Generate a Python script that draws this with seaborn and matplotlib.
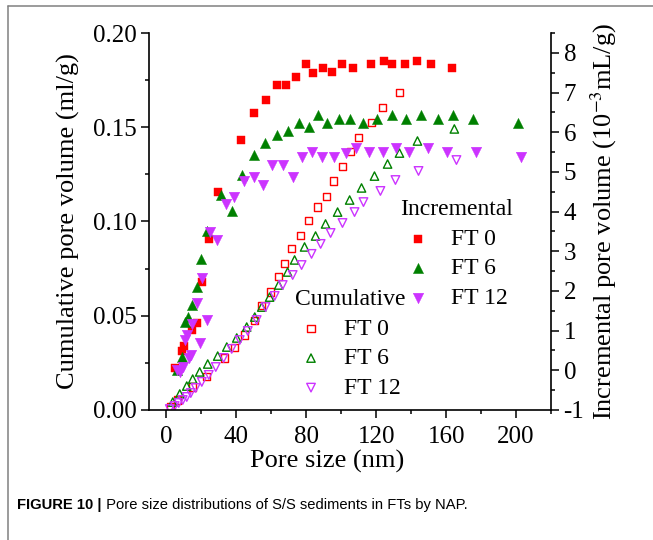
import seaborn as sns
import matplotlib.pyplot as plt
from matplotlib.ticker import MultipleLocator, FormatStrFormatter
from matplotlib.lines import Line2D

# incremental pore volume, right axis (10^-3 mL/g)
inc_ft0_x = [4.7, 8.7, 9.9, 14.5, 17.3, 20.2, 24.2, 29.3, 42.5, 49.9, 56.7, 63.0, 68.2, 73.9,
             79.6, 83.6, 89.3, 94.5, 100.7, 106.5, 117.3, 124.2, 129.3, 136.2, 143.6, 151.6, 163.6]
inc_ft0_y = [0.06, 0.49, 0.61, 1.02, 1.19, 2.22, 3.31, 4.49, 5.80, 6.48, 6.81, 7.19, 7.19, 7.39,
             7.72, 7.49, 7.61, 7.51, 7.72, 7.61, 7.72, 7.79, 7.72, 7.72, 7.79, 7.72, 7.61]

inc_ft6_x = [5.9, 8.7, 10.5, 12.2, 14.5, 17.3, 19.6, 23.0, 31.0, 37.3, 43.0, 49.9, 56.2, 63.0, 69.3,
             75.6, 81.3, 86.5, 91.6, 98.5, 104.8, 112.2, 120.2, 128.8, 136.8, 145.9, 155.6, 164.2,
             175.6, 201.3]
inc_ft6_y = [0.01, 0.34, 1.22, 1.34, 1.64, 2.10, 2.80, 3.51, 4.42, 4.01, 4.92, 5.42, 5.73, 5.93, 6.03,
             6.23, 6.13, 6.43, 6.23, 6.33, 6.33, 6.23, 6.33, 6.43, 6.33, 6.43, 6.33, 6.43,
             6.33, 6.23]

inc_ft12_x = [5.9, 7.6, 9.3, 10.5, 12.0, 12.8, 13.9, 14.5, 17.3, 19.0, 20.2, 23.0, 24.7, 28.7, 33.9,
              38.5, 44.2, 49.9, 55.0, 60.2, 66.5, 72.2, 77.3, 83.0, 88.7, 95.6, 102.5, 108.7,
              115.6, 123.6, 131.6, 138.5, 149.9, 160.7, 177.3, 203.0]
inc_ft12_y = [0.01, -0.04, 0.08, 0.76, 0.89, 0.31, 0.39, 1.17, 1.70, 0.69, 2.32, 1.27, 3.48, 3.28, 4.19,
              4.37, 4.77, 4.87, 4.67, 5.17, 5.17, 4.87, 5.37, 5.50, 5.37, 5.37, 5.47, 5.60,
              5.50, 5.50, 5.60, 5.50, 5.60, 5.50, 5.50, 5.37]

# cumulative pore volume, left axis (ml/g)
cum_ft0_x = [2.5, 6.5, 15.0, 23.0, 33.3, 39.0, 44.7, 50.5, 54.5, 59.6, 64.2, 67.6, 71.6, 76.7,
             81.3, 86.5, 91.6, 95.6, 100.7, 105.3, 109.9, 117.3, 123.6, 133.3]
cum_ft0_y = [0.0021, 0.0053, 0.0122, 0.0180, 0.0276, 0.0334, 0.0398, 0.0477, 0.0552, 0.0626, 0.0706,
             0.0775, 0.0859, 0.0928, 0.1003, 0.1077, 0.1135, 0.1215, 0.1294, 0.1369, 0.1448,
             0.1523, 0.1607, 0.1682]

cum_ft6_x = [3.6, 7.6, 11.6, 15.0, 19.0, 23.6, 29.3, 34.5, 40.2, 45.9, 50.5, 54.5, 59.0, 64.2,
             69.3, 73.3, 79.0, 85.3, 91.0, 97.9, 104.8, 111.6, 119.0, 126.5, 133.3, 143.6, 164.7]
cum_ft6_y = [0.0042, 0.0085, 0.0127, 0.0164, 0.0202, 0.0244, 0.0286, 0.0334, 0.0382, 0.0440, 0.0493,
             0.0546, 0.0599, 0.0663, 0.0732, 0.0796, 0.0865, 0.0923, 0.0987, 0.1050, 0.1114,
             0.1178, 0.1241, 0.1305, 0.1363, 0.1427, 0.1491]

cum_ft12_x = [1.9, 4.7, 7.0, 9.3, 11.6, 13.9, 16.7, 20.2, 24.2, 28.2, 32.7, 37.3, 41.9, 46.5, 51.6,
              56.7, 61.9, 66.5, 72.2, 77.3, 83.0, 88.2, 93.9, 100.7, 107.6, 112.7, 122.4, 131.0,
              144.2, 165.9]
cum_ft12_y = [0.0005, 0.0021, 0.0037, 0.0053, 0.0069, 0.0090, 0.0117, 0.0149, 0.0186, 0.0228, 0.0276,
              0.0324, 0.0371, 0.0419, 0.0477, 0.0546, 0.0605, 0.0663, 0.0716, 0.0769, 0.0828,
              0.0881, 0.0939, 0.0992, 0.1050, 0.1103, 0.1162, 0.1220, 0.1268, 0.1326]

labels = ["FT 0", "FT 6", "FT 12"]
colors = ["#ff0000", "#008000", "#cc33ff"]

sns.set_theme(style="ticks", rc={"axes.edgecolor": "black", "xtick.color": "black",
                                 "ytick.color": "black", "text.color": "black",
                                 "axes.labelcolor": "black"})
plt.rcParams["font.family"] = ["Liberation Serif", "DejaVu Serif"]
plt.rcParams["mathtext.fontset"] = "stix"
plt.rcParams["axes.unicode_minus"] = False

fig = plt.figure(figsize=(6.53, 5.40), dpi=100)
ax = fig.add_axes([149 / 653, 1 - 410 / 540, 402 / 653, 377 / 540])
ax2 = ax.twinx()

# cumulative (open markers)
cum_sets = [(cum_ft0_x, cum_ft0_y, "s", 26), (cum_ft6_x, cum_ft6_y, "^", 36),
            (cum_ft12_x, cum_ft12_y, "v", 38)]
for (x, y, m, s), c in zip(cum_sets, colors):
    sns.scatterplot(x=x, y=y, ax=ax, marker=m, s=s, color=c, facecolor="none",
                    edgecolor=c, linewidth=1.0, legend=False)

# incremental (filled markers)
inc_sets = [(inc_ft0_x, inc_ft0_y, "s", 32), (inc_ft6_x, inc_ft6_y, "^", 54),
            (inc_ft12_x, inc_ft12_y, "v", 58)]
for (x, y, m, s), c in zip(inc_sets, colors):
    sns.scatterplot(x=x, y=y, ax=ax2, marker=m, s=s, color=c, edgecolor=c,
                    linewidth=0.3, legend=False)

ax.set_xlim(-10, 220)
ax.set_ylim(0, 0.20)
ax2.set_ylim(-1, 8.5)

ax.xaxis.set_major_locator(MultipleLocator(40))
ax.xaxis.set_minor_locator(MultipleLocator(20))
ax.yaxis.set_major_locator(MultipleLocator(0.05))
ax.yaxis.set_minor_locator(MultipleLocator(0.025))
ax.yaxis.set_major_formatter(FormatStrFormatter("%.2f"))
ax2.yaxis.set_major_locator(MultipleLocator(1))
ax2.yaxis.set_minor_locator(MultipleLocator(0.5))

for a in (ax, ax2):
    a.tick_params(which="major", direction="out", length=5.5, width=1.1, labelsize=18)
    a.tick_params(which="minor", direction="out", length=3, width=1.1)
    for sp in a.spines.values():
        sp.set_linewidth(1.2)
ax.tick_params(axis="x", which="major", pad=6)
ax.spines["top"].set_visible(False)
ax.spines["right"].set_visible(False)
for k in ("top", "left", "bottom"):
    ax2.spines[k].set_visible(False)

ax.set_xlabel("Pore size (nm)", fontsize=19)
ax.xaxis.set_label_coords((327 - 149) / 402, -0.107)
ax.set_ylabel("Cumulative pore volume (ml/g)", fontsize=19)
ax.yaxis.set_label_coords((80 - 149) / 402, 0.5)
ax2.set_ylabel(r"Incremental pore volume (10$^{-3}$mL/g)", fontsize=19)
ax2.yaxis.set_label_coords((588 - 149) / 402, 0.5)

leg_kw = dict(loc="center", bbox_transform=fig.transFigure, frameon=False, fontsize=17,
              title_fontsize=17, handlelength=1.0, handletextpad=0.9, labelspacing=0.34,
              borderpad=0, borderaxespad=0)
leg1 = ax2.legend(handles=ax2.collections[:3], labels=labels, title="Incremental",
                  bbox_to_anchor=(457 / 653, 1 - 254 / 540), **leg_kw)
ax2.add_artist(leg1)
ax2.legend(handles=ax.collections[:3], labels=labels, title="Cumulative",
           bbox_to_anchor=(350 / 653, 1 - 344 / 540), **leg_kw)

# caption
cap_font = ["Liberation Sans", "DejaVu Sans"]
t1 = fig.text(17 / 653, 1 - 509 / 540, "FIGURE 10 |", family=cap_font, fontweight="bold",
              fontsize=10.6, va="baseline")
ax.annotate(" Pore size distributions of S/S sediments in FTs by NAP.", xy=(1, 0),
            xycoords=t1, va="bottom", ha="left", family=cap_font, fontsize=10.6,
            annotation_clip=False)

# page frame
fig.add_artist(Line2D([7.5 / 653, 7.5 / 653], [0, 1 - 6 / 540], transform=fig.transFigure,
                      color="#808080", lw=1.1))
fig.add_artist(Line2D([7.5 / 653, 1], [1 - 6 / 540, 1 - 6 / 540], transform=fig.transFigure,
                      color="#808080", lw=1.1))

fig.savefig("out.png", dpi=100)
